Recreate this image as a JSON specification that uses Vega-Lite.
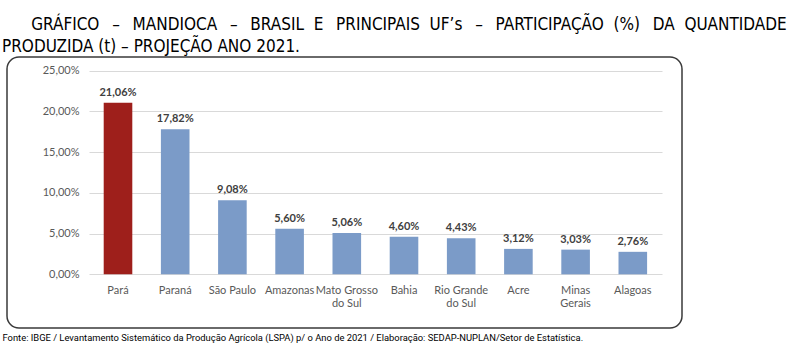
{
  "$schema": "https://vega.github.io/schema/vega-lite/v6.json",
  "width": 675,
  "height": 271,
  "autosize": {"type": "none"},
  "padding": {"left": 7, "top": 57, "right": 118, "bottom": 34},
  "background": "white",
  "title": {
    "text": ["\u200b\u00a0\u00a0\u00a0\u00a0\u00a0\u00a0GRÁFICO \u00a0\u2009– \u00a0\u2009MANDIOCA \u00a0\u2009– \u00a0\u2009BRASIL \u00a0E \u00a0\u2009PRINCIPAIS \u00a0UF’s \u00a0\u2009– \u00a0\u2009PARTICIPAÇÃO \u00a0(%) \u00a0\u2009DA \u00a0QUANTIDADE", "PRODUZIDA (t) – PROJEÇÃO ANO 2021."],
    "anchor": "start",
    "frame": "group",
    "font": "DejaVu Sans Condensed",
    "fontSize": 17,
    "fontWeight": "normal",
    "color": "#000000",
    "lineHeight": 22,
    "offset": 1,
    "dx": -5,
    "limit": 1000
  },
  "data": {
    "values": [
      {"uf": "Pará", "part": 0.2106},
      {"uf": "Paraná", "part": 0.1782},
      {"uf": "São Paulo", "part": 0.0908},
      {"uf": "Amazonas", "part": 0.0560},
      {"uf": "Mato Grosso do Sul", "part": 0.0506},
      {"uf": "Bahia", "part": 0.0460},
      {"uf": "Rio Grande do Sul", "part": 0.0443},
      {"uf": "Acre", "part": 0.0312},
      {"uf": "Minas Gerais", "part": 0.0303},
      {"uf": "Alagoas", "part": 0.0276}
    ]
  },
  "encoding": {
    "x": {
      "field": "uf",
      "type": "nominal",
      "sort": null,
      "scale": {"range": [82.4, 654.4], "paddingInner": 0.5, "paddingOuter": 0.25},
      "axis": {
        "title": "Fonte: IBGE / Levantamento Sistemático da Produção Agrícola (LSPA) p/ o Ano de 2021 / Elaboração: SEDAP-NUPLAN/Setor de Estatística.",
        "titleFont": "Roboto",
        "titleFontSize": 9.4,
        "titleFontWeight": "normal",
        "titleColor": "#000000",
        "titleAnchor": "start",
        "titleAlign": "left",
        "titleBaseline": "alphabetic",
        "titleX": -5,
        "titleY": 66,
        "titleLimit": 1000,
        "offset": -53.7,
        "domain": false,
        "ticks": false,
        "labelAngle": 0,
        "labelPadding": 10,
        "labelFont": "Lato",
        "labelFontSize": 11,
        "labelColor": "#595959",
        "labelLineHeight": 13,
        "labelBaseline": "top",
        "labelExpr": "datum.label == 'Mato Grosso do Sul' ? ['Mato Grosso', 'do Sul'] : datum.label == 'Rio Grande do Sul' ? ['Rio Grande', 'do Sul'] : datum.label == 'Minas Gerais' ? ['Minas', 'Gerais'] : datum.label"
      }
    },
    "y": {
      "field": "part",
      "type": "quantitative",
      "scale": {"domain": [0, 0.25], "range": [217.3, 13.7], "nice": false},
      "axis": {
        "title": null,
        "values": [0, 0.05, 0.1, 0.15, 0.2, 0.25],
        "format": ".2%",
        "offset": -82,
        "domain": false,
        "grid": false,
        "ticks": true,
        "tickSize": -573,
        "tickColor": "#d9d9d9",
        "tickWidth": 1,
        "labelPadding": 583,
        "labelFont": "Lato",
        "labelFontSize": 11,
        "labelColor": "#595959"
      }
    }
  },
  "layer": [
    {
      "mark": {"type": "bar"},
      "encoding": {
        "color": {
          "condition": {"test": "datum.uf === 'Pará'", "value": "#9e1f1b"},
          "value": "#7b9bc8"
        }
      }
    },
    {
      "mark": {"type": "text", "baseline": "alphabetic", "dy": -7, "font": "Lato", "fontSize": 11, "fontWeight": "bold", "color": "#404040"},
      "encoding": {
        "text": {"field": "part", "type": "quantitative", "format": ".2%"}
      }
    }
  ],
  "config": {
    "locale": {
      "number": {"decimal": ",", "thousands": ".", "grouping": [3], "currency": ["R$", ""]}
    },
    "view": {"stroke": "#3a3a3a", "strokeWidth": 1.5, "cornerRadius": 12}
  }
}
